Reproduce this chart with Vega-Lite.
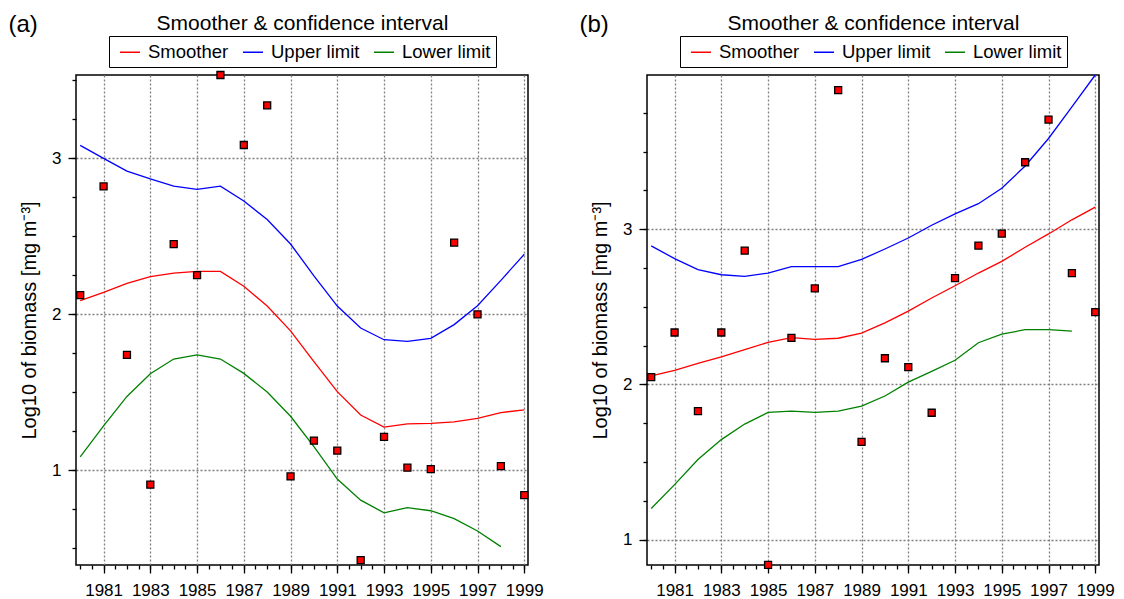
{
  "$schema": "https://vega.github.io/schema/vega-lite/v6.json",
  "padding": {"left": 7, "top": 11, "right": 10, "bottom": 5},
  "background": "white",
  "datasets": {
    "pointsA": [
      {"year": 1980, "biomass": 2.123}, {"year": 1981, "biomass": 2.82}, {"year": 1982, "biomass": 1.74},
      {"year": 1983, "biomass": 0.907}, {"year": 1984, "biomass": 2.45}, {"year": 1985, "biomass": 2.251},
      {"year": 1986, "biomass": 3.535}, {"year": 1987, "biomass": 3.086}, {"year": 1988, "biomass": 3.34},
      {"year": 1989, "biomass": 0.96}, {"year": 1990, "biomass": 1.19}, {"year": 1991, "biomass": 1.126},
      {"year": 1992, "biomass": 0.423}, {"year": 1993, "biomass": 1.214}, {"year": 1994, "biomass": 1.016},
      {"year": 1995, "biomass": 1.007}, {"year": 1996, "biomass": 2.46}, {"year": 1997, "biomass": 2.0},
      {"year": 1998, "biomass": 1.026}, {"year": 1999, "biomass": 0.84}
    ],
    "linesA": [
      {"year": 1980, "series": "Smoother", "value": 2.088}, {"year": 1981, "series": "Smoother", "value": 2.141},
      {"year": 1982, "series": "Smoother", "value": 2.198}, {"year": 1983, "series": "Smoother", "value": 2.242},
      {"year": 1984, "series": "Smoother", "value": 2.264}, {"year": 1985, "series": "Smoother", "value": 2.275},
      {"year": 1986, "series": "Smoother", "value": 2.275}, {"year": 1987, "series": "Smoother", "value": 2.18},
      {"year": 1988, "series": "Smoother", "value": 2.053}, {"year": 1989, "series": "Smoother", "value": 1.894},
      {"year": 1990, "series": "Smoother", "value": 1.696}, {"year": 1991, "series": "Smoother", "value": 1.504},
      {"year": 1992, "series": "Smoother", "value": 1.354}, {"year": 1993, "series": "Smoother", "value": 1.277},
      {"year": 1994, "series": "Smoother", "value": 1.297}, {"year": 1995, "series": "Smoother", "value": 1.3},
      {"year": 1996, "series": "Smoother", "value": 1.31}, {"year": 1997, "series": "Smoother", "value": 1.332},
      {"year": 1998, "series": "Smoother", "value": 1.37}, {"year": 1999, "series": "Smoother", "value": 1.387},
      {"year": 1980, "series": "Upper limit", "value": 3.084}, {"year": 1981, "series": "Upper limit", "value": 3.0},
      {"year": 1982, "series": "Upper limit", "value": 2.918}, {"year": 1983, "series": "Upper limit", "value": 2.868},
      {"year": 1984, "series": "Upper limit", "value": 2.822}, {"year": 1985, "series": "Upper limit", "value": 2.802},
      {"year": 1986, "series": "Upper limit", "value": 2.822}, {"year": 1987, "series": "Upper limit", "value": 2.727},
      {"year": 1988, "series": "Upper limit", "value": 2.608}, {"year": 1989, "series": "Upper limit", "value": 2.451},
      {"year": 1990, "series": "Upper limit", "value": 2.247}, {"year": 1991, "series": "Upper limit", "value": 2.053},
      {"year": 1992, "series": "Upper limit", "value": 1.912}, {"year": 1993, "series": "Upper limit", "value": 1.837},
      {"year": 1994, "series": "Upper limit", "value": 1.826}, {"year": 1995, "series": "Upper limit", "value": 1.846},
      {"year": 1996, "series": "Upper limit", "value": 1.934}, {"year": 1997, "series": "Upper limit", "value": 2.055},
      {"year": 1998, "series": "Upper limit", "value": 2.218}, {"year": 1999, "series": "Upper limit", "value": 2.385},
      {"year": 1980, "series": "Lower limit", "value": 1.086}, {"year": 1981, "series": "Lower limit", "value": 1.284},
      {"year": 1982, "series": "Lower limit", "value": 1.473}, {"year": 1983, "series": "Lower limit", "value": 1.619},
      {"year": 1984, "series": "Lower limit", "value": 1.713}, {"year": 1985, "series": "Lower limit", "value": 1.74},
      {"year": 1986, "series": "Lower limit", "value": 1.713}, {"year": 1987, "series": "Lower limit", "value": 1.621},
      {"year": 1988, "series": "Lower limit", "value": 1.502}, {"year": 1989, "series": "Lower limit", "value": 1.346},
      {"year": 1990, "series": "Lower limit", "value": 1.152}, {"year": 1991, "series": "Lower limit", "value": 0.943},
      {"year": 1992, "series": "Lower limit", "value": 0.808}, {"year": 1993, "series": "Lower limit", "value": 0.727},
      {"year": 1994, "series": "Lower limit", "value": 0.76}, {"year": 1995, "series": "Lower limit", "value": 0.74},
      {"year": 1996, "series": "Lower limit", "value": 0.689}, {"year": 1997, "series": "Lower limit", "value": 0.61},
      {"year": 1998, "series": "Lower limit", "value": 0.51}
    ],
    "pointsB": [
      {"year": 1980, "biomass": 2.047}, {"year": 1981, "biomass": 2.334}, {"year": 1982, "biomass": 1.828},
      {"year": 1983, "biomass": 2.334}, {"year": 1984, "biomass": 2.861}, {"year": 1985, "biomass": 0.837},
      {"year": 1986, "biomass": 2.299}, {"year": 1987, "biomass": 2.618}, {"year": 1988, "biomass": 3.896},
      {"year": 1989, "biomass": 1.629}, {"year": 1990, "biomass": 2.168}, {"year": 1991, "biomass": 2.111},
      {"year": 1992, "biomass": 1.817}, {"year": 1993, "biomass": 2.684}, {"year": 1994, "biomass": 2.894},
      {"year": 1995, "biomass": 2.971}, {"year": 1996, "biomass": 3.431}, {"year": 1997, "biomass": 3.706},
      {"year": 1998, "biomass": 2.717}, {"year": 1999, "biomass": 2.465}
    ],
    "linesB": [
      {"year": 1980, "series": "Smoother", "value": 2.054}, {"year": 1981, "series": "Smoother", "value": 2.09},
      {"year": 1982, "series": "Smoother", "value": 2.135}, {"year": 1983, "series": "Smoother", "value": 2.177},
      {"year": 1984, "series": "Smoother", "value": 2.224}, {"year": 1985, "series": "Smoother", "value": 2.27},
      {"year": 1986, "series": "Smoother", "value": 2.301}, {"year": 1987, "series": "Smoother", "value": 2.29},
      {"year": 1988, "series": "Smoother", "value": 2.297}, {"year": 1989, "series": "Smoother", "value": 2.33},
      {"year": 1990, "series": "Smoother", "value": 2.396}, {"year": 1991, "series": "Smoother", "value": 2.472},
      {"year": 1992, "series": "Smoother", "value": 2.556}, {"year": 1993, "series": "Smoother", "value": 2.635},
      {"year": 1994, "series": "Smoother", "value": 2.717}, {"year": 1995, "series": "Smoother", "value": 2.792},
      {"year": 1996, "series": "Smoother", "value": 2.883}, {"year": 1997, "series": "Smoother", "value": 2.969},
      {"year": 1998, "series": "Smoother", "value": 3.06}, {"year": 1999, "series": "Smoother", "value": 3.142},
      {"year": 1980, "series": "Upper limit", "value": 2.892}, {"year": 1981, "series": "Upper limit", "value": 2.81},
      {"year": 1982, "series": "Upper limit", "value": 2.739}, {"year": 1983, "series": "Upper limit", "value": 2.706},
      {"year": 1984, "series": "Upper limit", "value": 2.695}, {"year": 1985, "series": "Upper limit", "value": 2.717},
      {"year": 1986, "series": "Upper limit", "value": 2.759}, {"year": 1987, "series": "Upper limit", "value": 2.759},
      {"year": 1988, "series": "Upper limit", "value": 2.759}, {"year": 1989, "series": "Upper limit", "value": 2.805},
      {"year": 1990, "series": "Upper limit", "value": 2.872}, {"year": 1991, "series": "Upper limit", "value": 2.943},
      {"year": 1992, "series": "Upper limit", "value": 3.025}, {"year": 1993, "series": "Upper limit", "value": 3.098},
      {"year": 1994, "series": "Upper limit", "value": 3.164}, {"year": 1995, "series": "Upper limit", "value": 3.263},
      {"year": 1996, "series": "Upper limit", "value": 3.407}, {"year": 1997, "series": "Upper limit", "value": 3.584},
      {"year": 1998, "series": "Upper limit", "value": 3.788}, {"year": 1999, "series": "Upper limit", "value": 3.993},
      {"year": 1980, "series": "Lower limit", "value": 1.2}, {"year": 1981, "series": "Lower limit", "value": 1.354},
      {"year": 1982, "series": "Lower limit", "value": 1.516}, {"year": 1983, "series": "Lower limit", "value": 1.644},
      {"year": 1984, "series": "Lower limit", "value": 1.744}, {"year": 1985, "series": "Lower limit", "value": 1.819},
      {"year": 1986, "series": "Lower limit", "value": 1.828}, {"year": 1987, "series": "Lower limit", "value": 1.819},
      {"year": 1988, "series": "Lower limit", "value": 1.828}, {"year": 1989, "series": "Lower limit", "value": 1.859},
      {"year": 1990, "series": "Lower limit", "value": 1.925}, {"year": 1991, "series": "Lower limit", "value": 2.014},
      {"year": 1992, "series": "Lower limit", "value": 2.084}, {"year": 1993, "series": "Lower limit", "value": 2.155},
      {"year": 1994, "series": "Lower limit", "value": 2.268}, {"year": 1995, "series": "Lower limit", "value": 2.323},
      {"year": 1996, "series": "Lower limit", "value": 2.352}, {"year": 1997, "series": "Lower limit", "value": 2.352},
      {"year": 1998, "series": "Lower limit", "value": 2.343}
    ]
  },
  "hconcat": [
    {
      "width": 452,
      "height": 490,
      "layer": [
        {
          "data": {"name": "linesA"},
          "mark": {"type": "line", "strokeWidth": 1.3},
          "encoding": {
            "x": {"field": "year", "type": "quantitative",
              "scale": {"domain": [1979.82, 1999.16], "nice": false, "zero": false},
              "axis": {"orient": "bottom", "values": [1981, 1983, 1985, 1987, 1989, 1991, 1993, 1995, 1997, 1999], "format": "d",
                "grid": true, "gridDash": [2, 2], "gridColor": "#7f7f7f", "gridWidth": 1.3, "gridOpacity": 1,
                "domain": false, "tickSize": 8, "labelPadding": 9, "labelFlush": false, "labelOverlap": false, "title": null}},
            "y": {"field": "value", "type": "quantitative",
              "scale": {"domain": [0.392, 3.535], "nice": false, "zero": false},
              "axis": {"orient": "left", "values": [1, 2, 3], "format": "d",
                "grid": true, "gridDash": [2, 2], "gridColor": "#7f7f7f", "gridWidth": 1.3, "gridOpacity": 1,
                "domain": false, "tickSize": 8, "labelPadding": 7, "labelFlush": false, "labelOverlap": false,
                "title": "Log10 of biomass [mg m⁻³]", "titleX": -47, "titleY": 245, "titleAngle": -90,
                "titleAlign": "center", "titleBaseline": "middle", "titleFontSize": 20, "titleFontWeight": "normal"}},
            "color": {"field": "series", "type": "nominal",
              "scale": {"domain": ["Smoother", "Upper limit", "Lower limit"], "range": ["#ff0000", "#0000ff", "#008000"]},
              "legend": {"orient": "none", "legendX": 33, "legendY": -39, "direction": "horizontal", "title": null,
                "strokeColor": "black", "fillColor": "white", "padding": 5, "labelFontSize": 18.5, "labelColor": "black",
                "symbolType": "stroke", "symbolSize": 400, "symbolStrokeWidth": 1.5, "symbolOffset": 5,
                "columnPadding": 8, "labelOffset": 7}}
          }
        },
        {
          "data": {"name": "pointsA"},
          "mark": {"type": "square", "size": 49, "fill": "#ff0000", "stroke": "black", "strokeWidth": 1.3, "opacity": 1, "fillOpacity": 1},
          "encoding": {
            "x": {"field": "year", "type": "quantitative",
              "scale": {"domain": [1979.82, 1999.16], "nice": false, "zero": false},
              "axis": {"orient": "bottom", "values": [1980, 1980.5, 1981, 1981.5, 1982, 1982.5, 1983, 1983.5, 1984, 1984.5, 1985, 1985.5, 1986, 1986.5, 1987, 1987.5, 1988, 1988.5, 1989, 1989.5, 1990, 1990.5, 1991, 1991.5, 1992, 1992.5, 1993, 1993.5, 1994, 1994.5, 1995, 1995.5, 1996, 1996.5, 1997, 1997.5, 1998, 1998.5, 1999],
                "labels": false, "grid": false, "domain": false, "tickSize": 4,
                "title": "Smoother & confidence interval", "titleX": 226, "titleY": -536, "titleAngle": 0,
                "titleAlign": "center", "titleBaseline": "alphabetic", "titleFontSize": 21, "titleFontWeight": "normal"}},
            "y": {"field": "biomass", "type": "quantitative",
              "scale": {"domain": [0.392, 3.535], "nice": false, "zero": false},
              "axis": {"orient": "left", "values": [0.5, 0.75, 1, 1.25, 1.5, 1.75, 2, 2.25, 2.5, 2.75, 3, 3.25, 3.5],
                "labels": false, "grid": false, "domain": false, "tickSize": 4,
                "title": "(a)", "titleX": -68, "titleY": -44, "titleAngle": 0,
                "titleAlign": "left", "titleBaseline": "alphabetic", "titleFontSize": 24, "titleFontWeight": "normal"}}
          }
        }
      ],
      "resolve": {"axis": {"x": "independent", "y": "independent"}}
    },
    {
      "width": 452,
      "height": 490,
      "layer": [
        {
          "data": {"name": "linesB"},
          "mark": {"type": "line", "strokeWidth": 1.3},
          "encoding": {
            "x": {"field": "year", "type": "quantitative",
              "scale": {"domain": [1979.82, 1999.16], "nice": false, "zero": false},
              "axis": {"orient": "bottom", "values": [1981, 1983, 1985, 1987, 1989, 1991, 1993, 1995, 1997, 1999], "format": "d",
                "grid": true, "gridDash": [2, 2], "gridColor": "#7f7f7f", "gridWidth": 1.3, "gridOpacity": 1,
                "domain": false, "tickSize": 8, "labelPadding": 9, "labelFlush": false, "labelOverlap": false, "title": null}},
            "y": {"field": "value", "type": "quantitative",
              "scale": {"domain": [0.836, 3.993], "nice": false, "zero": false},
              "axis": {"orient": "left", "values": [1, 2, 3], "format": "d",
                "grid": true, "gridDash": [2, 2], "gridColor": "#7f7f7f", "gridWidth": 1.3, "gridOpacity": 1,
                "domain": false, "tickSize": 8, "labelPadding": 7, "labelFlush": false, "labelOverlap": false,
                "title": "Log10 of biomass [mg m⁻³]", "titleX": -47, "titleY": 245, "titleAngle": -90,
                "titleAlign": "center", "titleBaseline": "middle", "titleFontSize": 20, "titleFontWeight": "normal"}},
            "color": {"field": "series", "type": "nominal",
              "scale": {"domain": ["Smoother", "Upper limit", "Lower limit"], "range": ["#ff0000", "#0000ff", "#008000"]},
              "legend": {"orient": "none", "legendX": 33, "legendY": -39, "direction": "horizontal", "title": null,
                "strokeColor": "black", "fillColor": "white", "padding": 5, "labelFontSize": 18.5, "labelColor": "black",
                "symbolType": "stroke", "symbolSize": 400, "symbolStrokeWidth": 1.5, "symbolOffset": 5,
                "columnPadding": 8, "labelOffset": 7}}
          }
        },
        {
          "data": {"name": "pointsB"},
          "mark": {"type": "square", "size": 49, "fill": "#ff0000", "stroke": "black", "strokeWidth": 1.3, "opacity": 1, "fillOpacity": 1},
          "encoding": {
            "x": {"field": "year", "type": "quantitative",
              "scale": {"domain": [1979.82, 1999.16], "nice": false, "zero": false},
              "axis": {"orient": "bottom", "values": [1980, 1980.5, 1981, 1981.5, 1982, 1982.5, 1983, 1983.5, 1984, 1984.5, 1985, 1985.5, 1986, 1986.5, 1987, 1987.5, 1988, 1988.5, 1989, 1989.5, 1990, 1990.5, 1991, 1991.5, 1992, 1992.5, 1993, 1993.5, 1994, 1994.5, 1995, 1995.5, 1996, 1996.5, 1997, 1997.5, 1998, 1998.5, 1999],
                "labels": false, "grid": false, "domain": false, "tickSize": 4,
                "title": "Smoother & confidence interval", "titleX": 226, "titleY": -536, "titleAngle": 0,
                "titleAlign": "center", "titleBaseline": "alphabetic", "titleFontSize": 21, "titleFontWeight": "normal"}},
            "y": {"field": "biomass", "type": "quantitative",
              "scale": {"domain": [0.836, 3.993], "nice": false, "zero": false},
              "axis": {"orient": "left", "values": [1, 1.25, 1.5, 1.75, 2, 2.25, 2.5, 2.75, 3, 3.25, 3.5, 3.75],
                "labels": false, "grid": false, "domain": false, "tickSize": 4,
                "title": "(b)", "titleX": -68, "titleY": -44, "titleAngle": 0,
                "titleAlign": "left", "titleBaseline": "alphabetic", "titleFontSize": 24, "titleFontWeight": "normal"}}
          }
        }
      ],
      "resolve": {"axis": {"x": "independent", "y": "independent"}}
    }
  ],
  "spacing": 119,
  "bounds": "flush",
  "resolve": {
    "scale": {"x": "independent", "y": "independent", "color": "independent"},
    "legend": {"color": "independent"}
  },
  "config": {
    "font": "Liberation Sans",
    "view": {"stroke": "black", "strokeWidth": 1.5},
    "axis": {"labelColor": "black", "labelFontSize": 17, "tickColor": "black", "tickWidth": 1.3, "titleColor": "black"},
    "legend": {"labelColor": "black"}
  }
}
